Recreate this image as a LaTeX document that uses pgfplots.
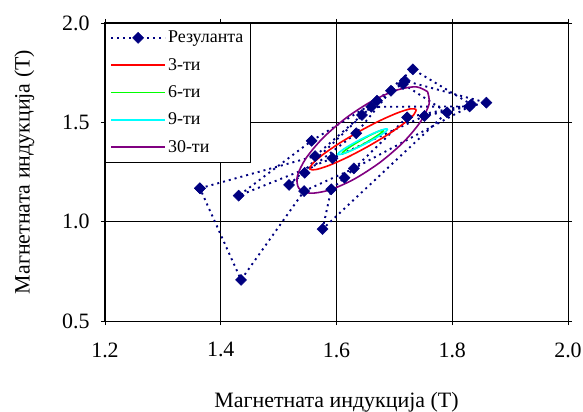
\documentclass[border=0pt]{standalone}
\usepackage{pgfplots}
\pgfplotsset{compat=1.18}
\usepackage{fontspec}
\setmainfont{Liberation Serif}
\definecolor{navyb}{RGB}{0,0,128}
\definecolor{purp}{RGB}{128,0,128}
\definecolor{grn}{RGB}{0,255,0}
\definecolor{cyn}{RGB}{0,255,255}
\begin{document}
\begin{tikzpicture}
\path[use as bounding box] (-105bp,-91bp) rectangle (478bp,321bp);
\begin{axis}[
  scale only axis, width=463bp, height=298bp,
  xmin=1.2, xmax=2.0, ymin=0.5, ymax=2.0,
  xtick={1.2,1.4,1.6,1.8,2.0},
  ytick={0.5,1.0,1.5,2.0},
  grid=major, grid style={black, line width=0.8bp},
  axis line style={black, line width=1bp},
  tick align=outside, major tick length=4bp, tick style={black, line width=0.8bp},
  /pgf/number format/assume math mode=true,
  ticklabel style={font=\fontsize{22}{26}\selectfont},
  xticklabel style={/pgf/number format/.cd, fixed, fixed zerofill, precision=1, /tikz/.cd, yshift=-14bp},
  yticklabel style={/pgf/number format/.cd, fixed, fixed zerofill, precision=1, /tikz/.cd, xshift=-8bp},
  xlabel={Магнетната индукција (Т)},
  ylabel={Магнетната индукција (Т)},
  label style={font=\fontsize{22}{26}\selectfont},
  xlabel style={yshift=-28bp},
  ylabel style={yshift=21bp},
  legend style={at={(0,1)}, anchor=north west, draw=black, fill=white,
    font=\fontsize{18}{21}\selectfont, row sep=10bp, inner xsep=5bp, inner ysep=6bp},
  legend cell align=left,
  legend image code/.code={\draw[mark repeat=2,mark phase=2,#1] plot coordinates {(0bp,0bp) (27bp,0bp) (54bp,0bp)};},
]
\addplot[color=navyb, line width=1.9bp, dash pattern=on 2bp off 4bp, mark=square*, mark size=3.9bp,
  mark options={solid, rotate=45, fill=navyb, draw=navyb, line width=0.5bp}] coordinates {
(1.364,1.168) (1.563,1.330) (1.644,1.537) (1.718,1.709) (1.859,1.599) (1.752,1.532)
(1.593,1.319) (1.431,1.131) (1.557,1.407) (1.670,1.609) (1.732,1.767) (1.833,1.590)
(1.722,1.525) (1.614,1.221) (1.591,1.163) (1.576,0.963) (1.791,1.550) (1.715,1.693)
(1.694,1.659) (1.634,1.445) (1.545,1.246) (1.518,1.185) (1.660,1.578) (1.830,1.580)
(1.630,1.268) (1.544,1.154) (1.435,0.707) (1.364,1.168)
};
\addlegendentry{Резуланта}
\addplot[color=red, line width=1.6bp, smooth] coordinates {
(1.7379,1.5649) (1.7337,1.5389) (1.7162,1.4940) (1.6880,1.4371) (1.6533,1.3768)
(1.6176,1.3223) (1.5862,1.2820) (1.5639,1.2619) (1.5541,1.2651) (1.5583,1.2911)
(1.5758,1.3360) (1.6040,1.3929) (1.6387,1.4532) (1.6744,1.5077) (1.7058,1.5480)
(1.7281,1.5681) (1.7379,1.5649)
};
\addlegendentry{3-ти}
\addplot[color=grn, line width=1.6bp, smooth] coordinates {
(1.6816,1.4613) (1.6796,1.4529) (1.6725,1.4369) (1.6612,1.4156) (1.6477,1.3923)
(1.6338,1.3706) (1.6217,1.3537) (1.6132,1.3441) (1.6098,1.3435) (1.6118,1.3519)
(1.6189,1.3679) (1.6302,1.3892) (1.6437,1.4125) (1.6576,1.4342) (1.6697,1.4511)
(1.6782,1.4607) (1.6816,1.4613)
};
\addlegendentry{6-ти}
\addplot[color=cyn, line width=1.6bp, smooth] coordinates {
(1.6884,1.4663) (1.6860,1.4562) (1.6775,1.4381) (1.6640,1.4145) (1.6476,1.3889)
(1.6310,1.3655) (1.6165,1.3477) (1.6064,1.3382) (1.6022,1.3385) (1.6046,1.3486)
(1.6131,1.3667) (1.6266,1.3903) (1.6430,1.4159) (1.6596,1.4393) (1.6741,1.4571)
(1.6842,1.4666) (1.6884,1.4663)
};
\addlegendentry{9-ти}
\addplot[color=purp, line width=1.6bp, smooth] coordinates {
(1.7574,1.6540) (1.7600,1.5923) (1.7452,1.5030) (1.7155,1.3998) (1.6751,1.2982)
(1.6303,1.2138) (1.5880,1.1594) (1.5546,1.1433) (1.5350,1.1680) (1.5324,1.2297)
(1.5472,1.3190) (1.5769,1.4222) (1.6173,1.5238) (1.6621,1.6082) (1.7044,1.6626)
(1.7378,1.6787) (1.7574,1.6540)
};
\addlegendentry{30-ти}
\end{axis}
\end{tikzpicture}
\end{document}
